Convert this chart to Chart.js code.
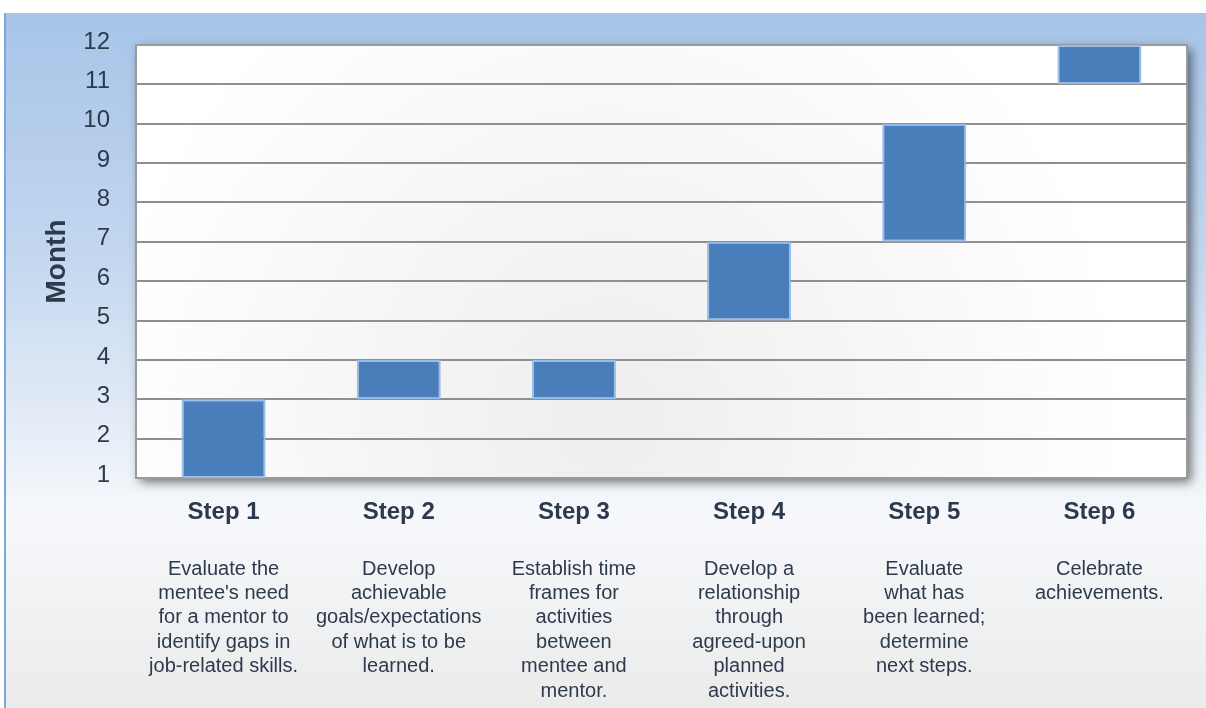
<!DOCTYPE html>
<html>
<head>
<meta charset="utf-8">
<script src="https://cdn.jsdelivr.net/npm/chart.js@4"></script>
<style>
  html, body { margin: 0; padding: 0; background: #fff; }
  #wrap { width: 1206px; height: 708px; }
</style>
</head>
<body>
<div id="wrap"><canvas id="chart" width="1206" height="708"></canvas></div>
<script>
// data
const steps = ['Step 1', 'Step 2', 'Step 3', 'Step 4', 'Step 5', 'Step 6'];
const startMonth = [1, 3, 3, 5, 7, 11];
const endMonth = [3, 4, 4, 7, 10, 12];
const monthTicks = [1, 2, 3, 4, 5, 6, 7, 8, 9, 10, 11, 12];
const descriptions = [
    ['Evaluate the', "mentee's need", 'for a mentor to', 'identify gaps in', 'job-related skills.'],
    ['Develop', 'achievable', 'goals/expectations', 'of what is to be', 'learned.'],
    ['Establish time', 'frames for', 'activities', 'between', 'mentee and', 'mentor.'],
    ['Develop a', 'relationship', 'through', 'agreed-upon', 'planned', 'activities.'],
    ['Evaluate', 'what has', 'been learned;', 'determine', 'next steps.'],
    ['Celebrate', 'achievements.']
];

const FONT = "Arial, 'Liberation Sans', sans-serif";
const TEXT = '#2d3a4c';

const ranges = steps.map((s, i) => [startMonth[i], endMonth[i]]);

// backdrop: blue fading panel + plot area with shadow
const backdrop = {
    id: 'backdrop',
    beforeDraw(chart) {
        const ctx = chart.ctx;
        const a = chart.chartArea;
        ctx.save();
        ctx.fillStyle = '#ffffff';
        ctx.fillRect(0, 0, chart.width, chart.height);
        const g = ctx.createLinearGradient(0, 13, 0, chart.height);
        g.addColorStop(0, '#a7c4e8');
        g.addColorStop(0.35, '#c3d7ef');
        g.addColorStop(0.72, '#f6f8fb');
        g.addColorStop(1, '#ebebeb');
        ctx.fillStyle = g;
        ctx.fillRect(4, 13, chart.width - 4, chart.height - 13);
        ctx.fillStyle = '#7ea6da';
        ctx.fillRect(4, 13, 2, chart.height - 13);

        // plot area with soft shadow
        ctx.shadowColor = 'rgba(0,0,0,0.55)';
        ctx.shadowBlur = 10;
        ctx.shadowOffsetX = 4;
        ctx.shadowOffsetY = 4;
        ctx.fillStyle = '#ffffff';
        ctx.fillRect(a.left, a.top, a.right - a.left, a.bottom - a.top);
        ctx.shadowColor = 'transparent';
        const rg = ctx.createRadialGradient(
            a.left + (a.right - a.left) * 0.45, a.bottom - 60, 10,
            a.left + (a.right - a.left) * 0.45, a.bottom - 60, 520);
        rg.addColorStop(0, '#eeeeee');
        rg.addColorStop(1, '#ffffff');
        ctx.fillStyle = rg;
        ctx.fillRect(a.left, a.top, a.right - a.left, a.bottom - a.top);
        ctx.restore();
    },
    beforeDatasetsDraw(chart) {
        const ctx = chart.ctx;
        const a = chart.chartArea;
        ctx.save();
        ctx.strokeStyle = '#9a9a9a';
        ctx.lineWidth = 2;
        ctx.strokeRect(a.left, a.top, a.right - a.left, a.bottom - a.top);
        ctx.restore();
    }
};

// step descriptions under the category labels
const stepText = {
    id: 'stepText',
    afterDraw(chart) {
        const ctx = chart.ctx;
        const xs = chart.scales.x;
        ctx.save();
        ctx.font = '20px ' + FONT;
        ctx.fillStyle = TEXT;
        ctx.textAlign = 'center';
        ctx.textBaseline = 'middle';
        descriptions.forEach((lines, i) => {
            const x = xs.getPixelForValue(i);
            lines.forEach((line, j) => {
                ctx.fillText(line, x, xs.top + 91 + j * 24.4);
            });
        });
        ctx.restore();
    }
};

new Chart(document.getElementById('chart'), {
    type: 'bar',
    data: {
        labels: steps,
        datasets: [{
            data: ranges,
            backgroundColor: '#4a7ebb',
            borderColor: 'rgba(150,188,234,0.95)',
            borderWidth: 2,
            borderSkipped: false,
            barPercentage: 0.48,
            categoryPercentage: 1
        }]
    },
    options: {
        responsive: false,
        animation: false,
        layout: { padding: { left: 0, right: 19, top: 45, bottom: 0 } },
        plugins: {
            legend: { display: false },
            tooltip: { enabled: false }
        },
        scales: {
            x: {
                grid: { display: false, drawTicks: false },
                border: { display: false },
                ticks: {
                    padding: 20,
                    color: TEXT,
                    font: { family: FONT, size: 24, weight: 'bold' }
                },
                afterFit(scale) { scale.height = 230; }
            },
            y: {
                min: 1,
                max: 12,
                afterBuildTicks(scale) {
                    scale.ticks = monthTicks.map(v => ({ value: v }));
                },
                grid: { color: '#8f8f8f', lineWidth: 2, drawTicks: false },
                border: { display: false },
                ticks: {
                    padding: 26,
                    labelOffset: -3,
                    color: TEXT,
                    font: { family: FONT, size: 24 }
                },
                title: {
                    display: true,
                    text: 'Month',
                    color: TEXT,
                    padding: { top: 40, bottom: 0 },
                    font: { family: FONT, size: 28, weight: 'bold' }
                },
                afterFit(scale) { scale.width = 136; }
            }
        }
    },
    plugins: [backdrop, stepText]
});
</script>
</body>
</html>
